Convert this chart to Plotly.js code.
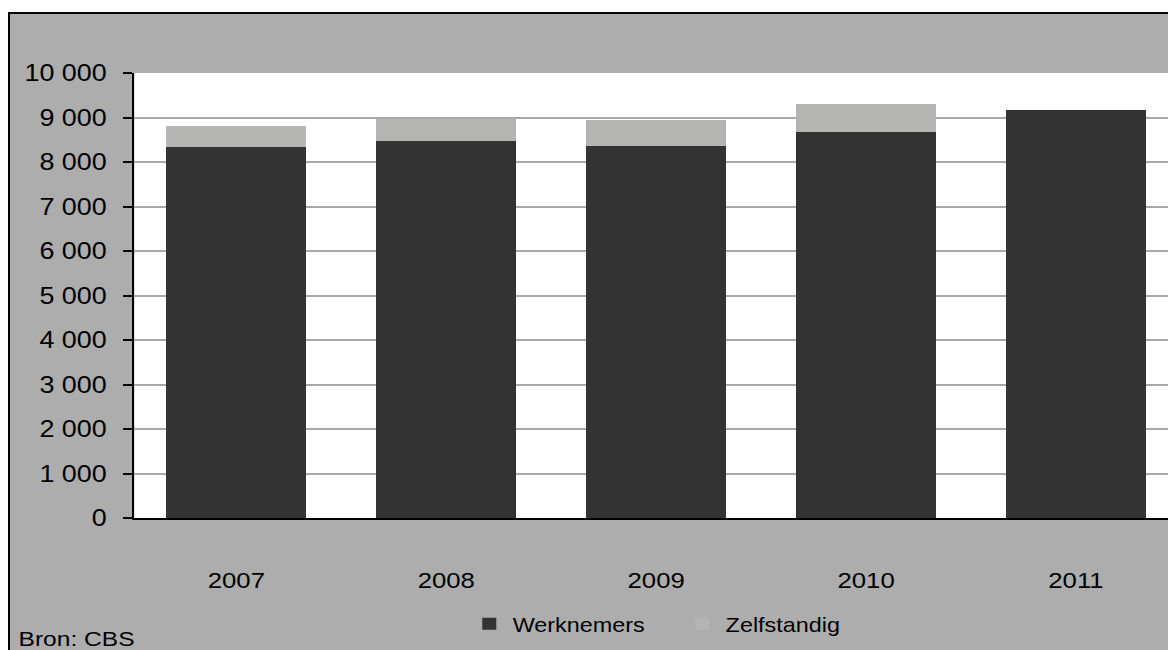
<!DOCTYPE html>
<html>
<head>
<meta charset="utf-8">
<script src="https://cdn.plot.ly/plotly-3.0.1.min.js"></script>
<style>
  html, body { margin: 0; padding: 0; background: #ffffff; overflow: hidden; width: 1168px; height: 650px; }
  #wrap { position: absolute; left: 8px; top: 12px; transform: scaleX(1.17); transform-origin: 0 0;
          border-top: 2px solid #000; border-left: 2px solid #000; }
  #chart { width: 1030px; height: 650px; }
</style>
</head>
<body>
<div id="wrap"><div id="chart"></div></div>
<script>
const years = ['2007', '2008', '2009', '2010', '2011'];
const werknemers = [8330, 8480, 8350, 8685, 9158];
const zelfstandig = [470, 495, 605, 608, null];
const yTickVals = [0, 1000, 2000, 3000, 4000, 5000, 6000, 7000, 8000, 9000, 10000];
const yTickText = ['0', '1 000', '2 000', '3 000', '4 000', '5 000', '6 000', '7 000', '8 000', '9 000', '10 000'];
const sourceText = 'Bron: CBS';

const font = 'Liberation Sans, Arial, sans-serif';

const traces = [
  { type: 'bar', name: 'Werknemers', x: years, y: werknemers, marker: { color: '#333333' } },
  { type: 'bar', name: 'Zelfstandig', x: years, y: zelfstandig, marker: { color: '#b4b4b3' } }
];

const L = 105.5, PW = 897.5;
const layout = {
  width: 1030, height: 650,
  paper_bgcolor: '#adadad',
  plot_bgcolor: '#ffffff',
  barmode: 'stack',
  bargap: 0.333,
  margin: { l: L, r: 1030 - L - PW, t: 59.3, b: 650 - 59.3 - 444.7, pad: 0 },
  font: { family: font, size: 21, color: '#000000' },
  showlegend: true,
  legend: {
    orientation: 'h', xref: 'container', yref: 'container',
    x: 0.378, xanchor: 'left', y: 0.062, yanchor: 'middle',
    bgcolor: 'rgba(0,0,0,0)', font: { family: font, size: 20, color: '#000' },
    entrywidth: 137, entrywidthmode: 'pixels', traceorder: 'normal'
  },
  xaxis: {
    type: 'category', showgrid: false, showline: true, linecolor: '#000', linewidth: 2,
    ticks: '', tickfont: { family: font, size: 22 }, ticklabelstandoff: 42,
    range: [-0.486, 4.514], zeroline: false
  },
  yaxis: {
    range: [0, 10000], tickvals: yTickVals, ticktext: yTickText,
    showgrid: true, gridcolor: '#a8a8a8', gridwidth: 2,
    showline: true, linecolor: '#000', linewidth: 2,
    ticks: 'outside', ticklen: 8, tickwidth: 2, tickcolor: '#000',
    tickfont: { family: font, size: 23 }, ticklabelstandoff: 9, zeroline: false
  },
  annotations: [{
    text: sourceText, xref: 'paper', yref: 'paper', x: -0.113, y: -0.27,
    xanchor: 'left', yanchor: 'middle', showarrow: false,
    font: { family: font, size: 21, color: '#000' }
  }]
};

Plotly.newPlot('chart', traces, layout, { displayModeBar: false, staticPlot: true });
</script>
</body>
</html>
